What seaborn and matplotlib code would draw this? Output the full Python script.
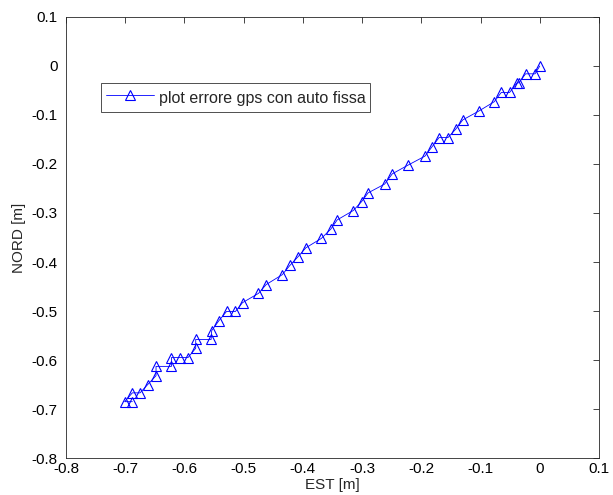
import matplotlib
matplotlib.use("Agg")
import matplotlib.pyplot as plt
import seaborn as sns
import pandas as pd

# GPS position error of a stationary car, East / North offsets in metres
est = [0.0, -0.008, -0.024, -0.035, -0.039, -0.051, -0.065, -0.077, -0.103, -0.130,
       -0.142, -0.155, -0.170, -0.182, -0.194, -0.222, -0.249, -0.262, -0.290, -0.301,
       -0.315, -0.342, -0.353, -0.369, -0.395, -0.408, -0.422, -0.435, -0.462, -0.475,
       -0.502, -0.514, -0.529, -0.542, -0.554, -0.555, -0.581, -0.581, -0.594, -0.608,
       -0.622, -0.622, -0.648, -0.648, -0.662, -0.675, -0.688, -0.701, -0.688]
nord = [0.0, -0.016, -0.016, -0.034, -0.035, -0.054, -0.054, -0.073, -0.092, -0.110,
        -0.129, -0.146, -0.146, -0.165, -0.184, -0.202, -0.220, -0.241, -0.259, -0.277,
        -0.295, -0.314, -0.333, -0.352, -0.371, -0.389, -0.407, -0.426, -0.446, -0.464,
        -0.483, -0.501, -0.501, -0.520, -0.540, -0.558, -0.558, -0.576, -0.595, -0.595,
        -0.595, -0.613, -0.613, -0.632, -0.650, -0.667, -0.667, -0.685, -0.685]

x_ticks = [-0.8, -0.7, -0.6, -0.5, -0.4, -0.3, -0.2, -0.1, 0, 0.1]
y_ticks = [0.1, 0, -0.1, -0.2, -0.3, -0.4, -0.5, -0.6, -0.7, -0.8]
series_label = "plot errore gps con auto fissa"

sns.set_style("white")
plt.rcParams["font.family"] = ["Liberation Sans", "DejaVu Sans"]
plt.rcParams["axes.unicode_minus"] = False

df = pd.DataFrame({"EST": est, "NORD": nord})

fig = plt.figure(figsize=(6.13, 4.95), dpi=100)
ax = fig.add_axes([0.1077, 0.0747, 0.8695, 0.891])

sns.lineplot(data=df, x="EST", y="NORD", sort=False, estimator=None, ax=ax,
             color="#0000ff", linewidth=0.6, marker="^", markersize=7.8,
             markerfacecolor="none", markeredgecolor="#0000ff",
             markeredgewidth=0.8, label=series_label)

ax.set_xlim(-0.8, 0.1)
ax.set_ylim(-0.8, 0.1)
ax.set_xticks(x_ticks)
ax.set_yticks(y_ticks)
ax.set_xticklabels([f"{v:g}" for v in x_ticks])
ax.set_yticklabels([f"{v:g}" for v in y_ticks])
ax.tick_params(direction="in", length=4, width=0.6, top=True, right=True,
               labelsize=11, colors="#262626", labelcolor="black")
ax.tick_params(axis="x", pad=3)
ax.tick_params(axis="y", pad=6)
for s in ax.spines.values():
    s.set_visible(True)
    s.set_color("#262626")
    s.set_linewidth(0.6)

ax.set_xlabel("EST [m]", fontsize=11, labelpad=1)
ax.set_ylabel("NORD [m]", fontsize=11, labelpad=4)

leg = ax.legend(loc="upper left", bbox_to_anchor=(0.0657, 0.850), borderaxespad=0,
                fontsize=11.5, frameon=True, fancybox=False, handlelength=3.0,
                handleheight=1.45, handletextpad=0.3, borderpad=0.3)
leg.get_frame().set_edgecolor("black")
leg.get_frame().set_linewidth(0.6)

fig.savefig("out.png", dpi=100)
